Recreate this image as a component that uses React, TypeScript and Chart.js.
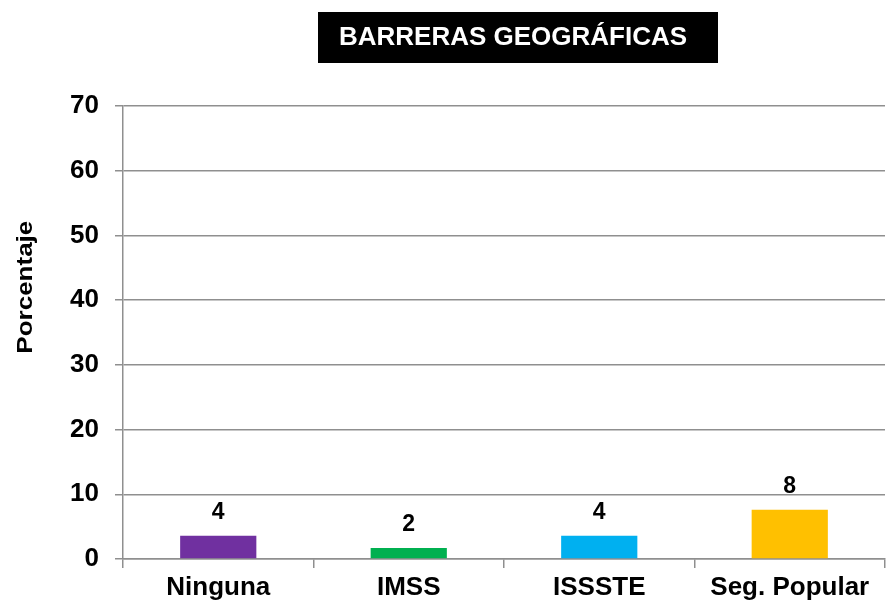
import React, { useEffect, useRef } from "react";
import { Chart, registerables } from "chart.js";

Chart.register(...registerables);

const categories = ["Ninguna", "IMSS", "ISSSTE", "Seg. Popular"];
const values = [3.6, 1.7, 3.6, 7.6];
const barColors = ["#7030A0", "#00B050", "#00B0F0", "#FFC000"];
const yMin = 0;
const yMax = 70;
const yStep = 10;
const titleText = "BARRERAS GEOGRÁFICAS";
const yAxisTitle = "Porcentaje";

const FONT = "'Liberation Sans', Arial, Helvetica, sans-serif";
const GRID = "#8f8f8f";

const titleBoxPlugin = {
  id: "titleBox",
  afterDraw(chart: any) {
    const ctx = chart.ctx;
    ctx.save();
    ctx.fillStyle = "#000";
    ctx.fillRect(318, 12, 400, 51);
    ctx.fillStyle = "#fff";
    ctx.font = `bold 26px ${FONT}`;
    ctx.textAlign = "center";
    ctx.textBaseline = "middle";
    ctx.fillText(titleText, 513, 38);
    ctx.restore();
  },
};

const yTitlePlugin = {
  id: "yTitle",
  afterDraw(chart: any) {
    const ctx = chart.ctx;
    const a = chart.chartArea;
    ctx.save();
    ctx.translate(26, a.top + (a.bottom - a.top) * 0.4);
    ctx.rotate(-Math.PI / 2);
    ctx.scale(1, 0.82);
    ctx.fillStyle = "#000";
    ctx.font = `bold 26px ${FONT}`;
    ctx.textAlign = "center";
    ctx.textBaseline = "middle";
    ctx.fillText(yAxisTitle, 0, 0);
    ctx.restore();
  },
};

const dataLabelPlugin = {
  id: "dataLabels",
  afterDatasetsDraw(chart: any) {
    const ctx = chart.ctx;
    const meta = chart.getDatasetMeta(0);
    ctx.save();
    ctx.fillStyle = "#000";
    ctx.font = `bold 23px ${FONT}`;
    ctx.textAlign = "center";
    ctx.textBaseline = "alphabetic";
    meta.data.forEach((bar: any, i: number) => {
      ctx.fillText(String(Math.round(values[i])), bar.x, bar.y - 17);
    });
    ctx.restore();
  },
};

export default function App() {
  const ref = useRef<HTMLCanvasElement>(null);

  useEffect(() => {
    if (!ref.current) return;
    const chart = new Chart(ref.current, {
      type: "bar",
      data: {
        labels: categories,
        datasets: [
          {
            data: values,
            backgroundColor: barColors,
            borderWidth: 0,
            barPercentage: 0.4,
            categoryPercentage: 1,
          },
        ],
      },
      options: {
        animation: false,
        responsive: false,
        devicePixelRatio: 1,
        layout: { padding: { top: 106, right: 10, left: 0, bottom: 0 } },
        plugins: {
          legend: { display: false },
          tooltip: { enabled: false },
          title: { display: false },
        },
        scales: {
          x: {
            grid: {
              offset: true,
              drawOnChartArea: false,
              tickLength: 9,
              color: GRID,
              lineWidth: 1.5,
            },
            border: { color: GRID, width: 1.5 },
            ticks: {
              color: "#000",
              font: { family: FONT, size: 26, weight: "bold" },
              padding: 4,
              maxRotation: 0,
            },
            afterFit: (s: any) => {
              s.height = 46;
            },
          },
          y: {
            min: yMin,
            max: yMax,
            ticks: {
              stepSize: yStep,
              color: "#000",
              font: { family: FONT, size: 26, weight: "bold" },
              padding: 16,
            },
            grid: { color: GRID, lineWidth: 1.5, tickLength: 8 },
            border: { color: GRID, width: 1.5 },
            afterFit: (s: any) => {
              s.width = 123;
            },
          },
        },
      },
      plugins: [titleBoxPlugin, yTitlePlugin, dataLabelPlugin],
    });
    return () => chart.destroy();
  }, []);

  return (
    <div style={{ position: "fixed", left: 0, top: 0, width: 895, height: 605, background: "#fff" }}>
      <canvas ref={ref} width={895} height={605} style={{ display: "block" }} />
    </div>
  );
}
